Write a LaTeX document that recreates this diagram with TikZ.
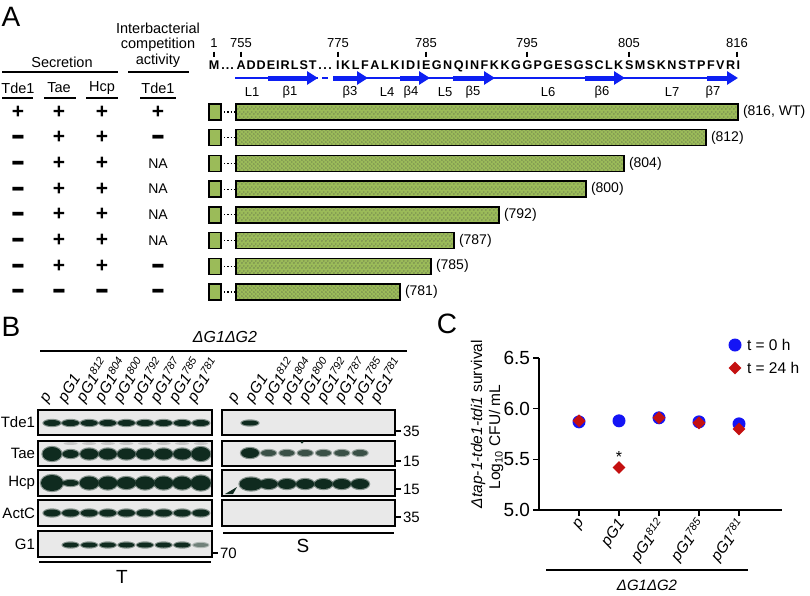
\documentclass[tikz,border=0pt]{standalone}
\usepackage{fontspec}
\usepackage{graphicx}
\setmainfont{Liberation Sans}
\usetikzlibrary{arrows.meta,shapes.geometric,patterns}
\definecolor{bargreen}{HTML}{9BBB59}
\definecolor{bandc}{HTML}{0F2B1F}
\definecolor{blotbg}{HTML}{E9E9E9}
\colorlet{bandmid}{bandc!80!blotbg}
\colorlet{bandfaint}{bandc!55!blotbg}
\definecolor{seqblue}{HTML}{0D1FF2}
\definecolor{ptblue}{HTML}{1414F5}
\definecolor{ptred}{HTML}{C41010}
\pgfdeclarepatternformonly{bardots}{\pgfpointorigin}{\pgfpoint{4.4pt}{4.4pt}}{\pgfpoint{4.4pt}{4.4pt}}{%
  \pgfpathcircle{\pgfpoint{1.1pt}{1.1pt}}{0.6pt}%
  \pgfpathcircle{\pgfpoint{3.3pt}{3.3pt}}{0.6pt}%
  \pgfusepath{fill}}
\newcommand{\fsz}[1]{\fontsize{#1}{#1}\selectfont}
\newcommand{\Pl}{{\fsz{21}\bfseries +}}
\newcommand{\Mi}{\raisebox{-11pt}[0pt][0pt]{\scalebox{1.1}[1.7]{\fsz{20}\bfseries −}}}
\newcommand{\NAx}{{\fsz{14}NA}}
\newcommand{\sps}[1]{\textsuperscript{#1}}
\newcommand{\bnd}[5][bandc]{\fill[#1, opacity=0.45] (#2,#3) ellipse [x radius={#4/2+1.2pt}, y radius={#5/2+1.2pt}];
  \fill[#1] (#2,#3) ellipse [x radius={#4/2}, y radius={#5/2}];}
% a run of residues, chained with letter spacing: name, left x, spacing, letters
\newcommand{\seqseg}[4]{%
  \foreach \ch [count=\i] in {#4} {%
    \ifnum\i=1
      \node[seqc, anchor=base west] (#1\i) at (#2,69.5) {\ch};
    \else
      \pgfmathtruncatemacro{\pv}{\i-1}
      \node[seqc, anchor=base west] (#1\i) at ([xshift=#3pt]#1\pv.base east) {\ch};
    \fi}}
\tikzset{
  txt/.style={inner sep=0pt, outer sep=0pt},
  panel/.style={txt, font=\fsz{28}},
  hd/.style={txt, font=\fsz{14.5}},
  seqc/.style={txt, anchor=base, font=\fsz{12.6}\bfseries},
  num/.style={txt, anchor=base, font=\fsz{13}},
  lab/.style={txt, font=\fsz{13}},
  hrule/.style={line width=1.4pt},
  tickm/.style={line width=1.5pt},
  thinb/.style={seqblue, line width=1.6pt},
  betaarr/.style={seqblue, line width=5pt, -{Triangle[length=11pt,width=13pt]}},
  sqbox/.style={draw=black, line width=1.4pt, fill=bargreen, minimum width=12pt, minimum height=16pt, inner sep=0pt, outer sep=0pt},
  barbox/.style={draw=black, line width=1.4pt, preaction={fill=bargreen}, pattern=bardots, pattern color=black!75, minimum height=16pt, inner sep=0pt, outer sep=0pt, anchor=west},
  lenlab/.style={txt, font=\fsz{14}, anchor=west},
  blot/.style={draw=black, line width=1.5pt, fill=blotbg, inner sep=0pt, outer sep=0pt, anchor=north west},
  rowlab/.style={txt, font=\fsz{15}, anchor=east},
  mw/.style={txt, font=\fsz{15}, anchor=west},
  lanelab/.style={txt, font=\fsz{15.5}\itshape, anchor=base west, rotate=58},
  axisl/.style={line width=1.3pt},
  ticklab/.style={txt, font=\fsz{19}, anchor=east},
  xlab/.style={txt, font=\fsz{15.5}\itshape, anchor=east, rotate=55},
  cdot/.style={circle, fill=ptblue, minimum size=13pt, inner sep=0pt},
  ddot/.style={diamond, fill=ptred, minimum size=13pt, inner sep=0pt},
}
\begin{document}
\begin{tikzpicture}[x=1pt,y=-1pt]
\useasboundingbox (0,0) rectangle (810,595);
\fill[white] (0,0) rectangle (810,595);

% ================= Panel A =================
\node[panel] (lA) at (11,17) {A};
\node[hd] (h1) at (158,28) {Interbacterial};
\node[hd] (h2) at (158,45) {competition};
\node[hd] (h3) at (158,61) {activity};
\node[hd] (hsec) at (62,62) {Secretion};
\draw[hrule] (2,72) -- (118,72);
\draw[hrule] (128,72) -- (189,72);
\node[hd] (c1) at (18,88) {Tde1};
\node[hd] (c2) at (59,88) {Tae};
\node[hd] (c3) at (102,88) {Hcp};
\node[hd] (c4) at (158,88) {Tde1};
\draw[hrule] (2,98) -- (33,98);
\draw[hrule] (44,98) -- (76,98);
\draw[hrule] (86,98) -- (118,98);
\draw[hrule] (140,98) -- (176,98);

% sequence
\node[seqc] (sM) at (214,69.5) {M};
\foreach \xx [count=\i] in {223,227.5,232} \node[seqc] (da\i) at (\xx,69.5) {.};
\seqseg{sa}{236.5}{1.0}{A,D,D,E,I,R,L,S,T}
\foreach \xx [count=\i] in {320,325,330} \node[seqc] (db\i) at (\xx,69.5) {.};
\seqseg{sb}{336}{1.6}{I,K,L,F,A,L,K,I,D,I}
\seqseg{sc}{422}{1.5}{E,G,N,Q,I,N,F,K,K,G}
\seqseg{sd}{522.5}{1.3}{G,P,G,E,S,G,S,C,L,K}
\seqseg{se}{625}{1.5}{S,M,S,K,N,S,T,P,F,V,R,I}
\foreach \xx/\n in {214/1, 241/755, 338/775, 426/785, 527/795, 629/805, 737/816} {
  \draw[tickm] (\xx,51.5) -- (\xx,57);
  \node[num] (n\n) at (\xx,47.5) {\n};
}
% secondary structure
\draw[thinb] (235,78) -- (318,78);
\draw[thinb] (333,78) -- (734,78);
\draw[seqblue, line width=2.5pt] (322,78) -- (328,78);
\draw[betaarr] (268,78) -- (318,78);
\draw[betaarr] (333,78) -- (368,78);
\draw[betaarr] (400,78) -- (430,78);
\draw[betaarr] (453,78) -- (495,78);
\draw[betaarr] (585,78) -- (625,78);
\draw[betaarr] (707,78) -- (738,78);
\foreach \xx/\t [count=\i] in {252/L1, 290/β1, 350/β3, 387/L4, 411/β4, 445/L5, 473/β5, 548/L6, 602/β6, 672/L7, 713/β7}
  \node[lab] (ss\i) at (\xx,92) {\t};

% constructs
\foreach \bend/\blab/\sA/\sB/\sC/\sD [count=\i from 0] in {
  738/{(816, WT)}/\Pl/\Pl/\Pl/\Pl,
  706/(812)/\Mi/\Pl/\Pl/\Mi,
  624/(804)/\Mi/\Pl/\Pl/\NAx,
  586/(800)/\Mi/\Pl/\Pl/\NAx,
  499/(792)/\Mi/\Pl/\Pl/\NAx,
  454/(787)/\Mi/\Pl/\Pl/\NAx,
  431/(785)/\Mi/\Pl/\Pl/\Mi,
  400/(781)/\Mi/\Mi/\Mi/\Mi}{
  \pgfmathsetmacro{\yy}{112+25.7*\i}
  \node[txt] (ga\i) at (18,\yy) {\sA};
  \node[txt] (gb\i) at (59,\yy) {\sB};
  \node[txt] (gc\i) at (102,\yy) {\sC};
  \node[txt] (gd\i) at (158,\yy) {\sD};
  \node[sqbox] (sq\i) at (215,\yy) {};
  \node[barbox, minimum width={(\bend-236)*1pt}] (bar\i) at (236,\yy) {};
  \draw[dotted, line width=1.2pt] (sq\i.east) -- (bar\i.west);
  \node[lenlab] (len\i) at ([xshift=5pt]bar\i.east) {\blab};
}

% ================= Panel B =================
\node[panel] (lB) at (11,327) {B};
\node[txt, font=\fsz{16}\itshape] (tB) at (225,337) {ΔG1ΔG2};
\draw[hrule] (40,351) -- (407,351);
\foreach \t [count=\i from 0] in {p, pG1, pG1\sps{812}, pG1\sps{804}, pG1\sps{800}, pG1\sps{792}, pG1\sps{787}, pG1\sps{785}, pG1\sps{781}} {
  \node[lanelab] (ll\i) at ({47+18.5*\i},403) {\t};
  \node[lanelab] (lr\i) at ({235+17.9*\i},403) {\t};
}
\foreach \nm/\yt/\yb in {Tde1/410/435, Tae/441/466, Hcp/470/496, ActC/500/526} {
  \node[blot, minimum width=174pt, minimum height={(\yb-\yt)*1pt}] (L\nm) at (38,\yt) {};
  \node[blot, minimum width=173pt, minimum height={(\yb-\yt)*1pt}] (R\nm) at (222,\yt) {};
  \node[rowlab] (rl\nm) at (35,{(\yt+\yb)/2}) {\nm};
}
\node[blot, minimum width=174pt, minimum height=26pt] (LG1) at (38,531) {};
\node[rowlab] (rlG1) at (35,544) {G1};

% left bands
\foreach \i in {0,...,8} { \bnd{52+18.6*\i}{423}{17pt}{6pt} }
\foreach \i/\w/\h in {0/19/14, 1/16/8, 2/18/11, 3/18/11, 4/18/11, 5/18/11, 6/18/11, 7/18/11, 8/19/14} {
  \bnd{52+18.6*\i}{454}{\w pt}{\h pt} }
\foreach \i in {1,...,8} { \fill[gray!45] ({52+18.6*\i},443.5) ellipse [x radius=7pt, y radius=1.4pt]; }
\foreach \i/\w/\h in {0/22/16, 1/16/6, 2/19/13, 3/19/13, 4/19/12, 5/19/13, 6/19/13, 7/19/13, 8/20/15} {
  \bnd{52+18.6*\i}{483}{\w pt}{\h pt} }
\foreach \i in {0,...,8} { \bnd{52+18.6*\i}{513}{17pt}{7pt} }
\foreach \i in {1,...,7} { \bnd{52+18.6*\i}{545}{16pt}{5pt} }
\bnd[bandfaint]{52+18.6*8}{545}{15pt}{4pt}

% right bands
\bnd{250}{423}{17pt}{5pt}
\bnd{250}{453}{18pt}{10pt}
\foreach \i in {2,...,7} { \bnd[bandmid]{232+18.3*\i}{453}{15pt}{6pt} }
\fill[bandc] (302,442) circle [radius=1.5pt];
\bnd{251}{484}{23pt}{13pt}
\foreach \i in {2,...,7} { \bnd{232+18.3*\i}{484}{18pt}{10pt} }
\fill[bandc] (225,494) -- (237,487) -- (233,494) -- cycle;

% markers
\foreach \yy/\m [count=\i] in {431/35, 461/15, 489/15, 517/35} {
  \draw[line width=1.2pt] (396,\yy) -- (401,\yy);
  \node[mw] (mk\i) at (403,\yy) {\m};
}
\draw[line width=1.2pt] (213,553) -- (218,553);
\node[mw] (mk70) at (220,553) {70};
\draw[hrule] (39,562) -- (211,562);
\node[txt, font=\fsz{19}] (lT) at (122,577) {T};
\draw[hrule] (223,533) -- (394,533);
\node[txt, font=\fsz{19}] (lS) at (303,546) {S};

% ================= Panel C =================
\node[panel] (lC) at (447,324) {C};
\draw[axisl] (539,358) -- (539,510) -- (782,510);
\foreach \yy/\v in {358/6.5, 408.7/6.0, 459.3/5.5, 510/5.0} {
  \draw[axisl] (533,\yy) -- (539,\yy);
  \node[ticklab] (yt\v) at (530,\yy) {\v};
}
\foreach \xx/\t [count=\i] in {579/p, 619/pG1, 659/pG1\sps{812}, 699/pG1\sps{785}, 739/pG1\sps{781}} {
  \draw[axisl] (\xx,510) -- (\xx,516);
  \node[xlab] (xl\i) at (\xx+3,521) {\t};
}
\foreach \xx/\cv [count=\i] in {579/5.87, 619/5.88, 659/5.91, 699/5.87, 739/5.85}
  \node[cdot] (cd\i) at (\xx,{510-(\cv-5)*101.33}) {};
\foreach \xx/\dv [count=\i] in {579/5.88, 619/5.42, 659/5.91, 699/5.86, 739/5.80}
  \node[ddot] (dd\i) at (\xx,{510-(\dv-5)*101.33}) {};
\node[txt, font=\fsz{16}] (star) at (619,457) {*};
\node[cdot] (lg1) at (735,345) {};
\node[txt, font=\fsz{15.5}, anchor=west] (lgt1) at (747,345) {t = 0 h};
\node[ddot] (lg2) at (735,368) {};
\node[txt, font=\fsz{15.5}, anchor=west] (lgt2) at (747,368) {t = 24 h};
\node[txt, font=\fsz{15.5}, rotate=90] (yl1) at (478,424) {\textit{Δtap-1-tde1-tdi1} survival};
\node[txt, font=\fsz{15.5}, rotate=90] (yl2) at (496,437) {Log\textsubscript{10} CFU/ mL};
\draw[hrule] (546,570) -- (748,570);
\node[txt, font=\fsz{15}\itshape] (tC) at (647,585) {ΔG1ΔG2};
\end{tikzpicture}
\end{document}
